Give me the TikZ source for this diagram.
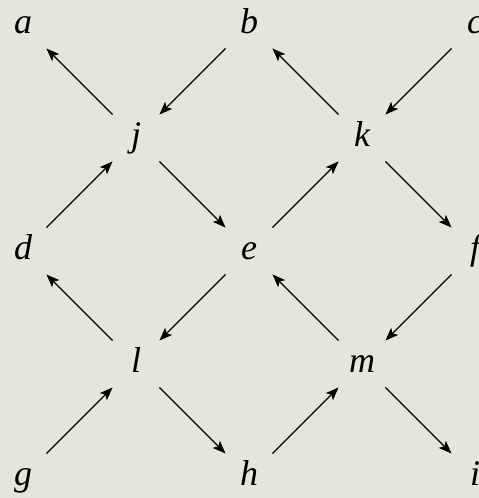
\documentclass[tikz,border=0pt]{standalone}
\usepackage{fontspec}
\setmainfont{Liberation Serif}
\usetikzlibrary{arrows.meta}
\definecolor{figpaper}{HTML}{E4E6D9}
\definecolor{figline}{HTML}{000000}

\begin{document}
\begin{tikzpicture}[
  x=1pt, y=-1pt,
  vtx/.style={circle, minimum size=66pt, inner sep=0pt, text=figline,
              font=\fontsize{36}{40}\selectfont\itshape,
              text height=16pt, text depth=0pt},
  flow/.style={-{Stealth[length=13pt, width=10pt, inset=3pt]}, draw=figline, line width=1.2pt}
]
\fill[figpaper] (0,0) rectangle (479,498);
\useasboundingbox (0,0) rectangle (479,498);
% top row
\node[vtx] (a) at (23,25)  {a};
\node[vtx] (b) at (249,25) {b};
\node[vtx] (c) at (475,25) {c};
\node[vtx] (j) at (136,138) {j};
\node[vtx] (k) at (362,138) {k};
% middle row
\node[vtx] (d) at (23,251)  {d};
\node[vtx] (e) at (249,251) {e};
\node[vtx] (f) at (475,251) {f};
\node[vtx] (l) at (136,364) {l};
\node[vtx] (m) at (362,364) {m};
% bottom row
\node[vtx] (g) at (23,477)  {g};
\node[vtx] (h) at (249,477) {h};
\node[vtx] (i) at (475,477) {i};
% arrows
\draw[flow] (j) -- (a);
\draw[flow] (b) -- (j);
\draw[flow] (c) -- (k);
\draw[flow] (k) -- (b);
\draw[flow] (d) -- (j);
\draw[flow] (j) -- (e);
\draw[flow] (e) -- (k);
\draw[flow] (k) -- (f);
\draw[flow] (l) -- (d);
\draw[flow] (e) -- (l);
\draw[flow] (m) -- (e);
\draw[flow] (f) -- (m);
\draw[flow] (g) -- (l);
\draw[flow] (l) -- (h);
\draw[flow] (h) -- (m);
\draw[flow] (m) -- (i);
\end{tikzpicture}
\end{document}
